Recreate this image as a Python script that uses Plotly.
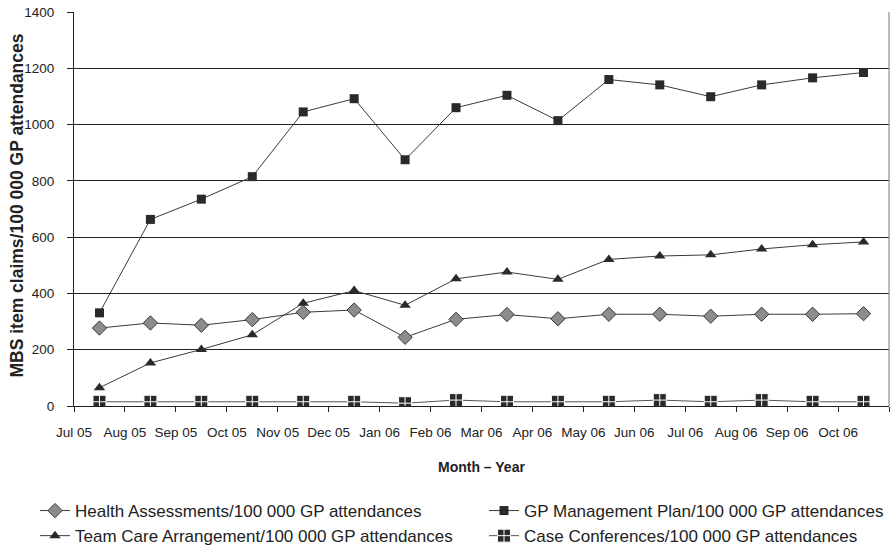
import plotly.graph_objects as go

months = ["Jul 05", "Aug 05", "Sep 05", "Oct 05", "Nov 05", "Dec 05", "Jan 06", "Feb 06",
          "Mar 06", "Apr 06", "May 06", "Jun 06", "Jul 06", "Aug 06", "Sep 06", "Oct 06"]

health_assessments = [277, 295, 287, 307, 333, 341, 244, 308, 325, 310, 326, 326, 319, 326, 326, 328]
gp_management_plan = [331, 663, 735, 815, 1045, 1092, 875, 1060, 1104, 1014, 1160, 1141, 1099, 1141, 1166, 1185]
team_care = [65, 153, 201, 253, 365, 410, 358, 452, 476, 450, 521, 533, 537, 558, 573, 583]
case_conferences = [15, 15, 15, 15, 15, 15, 10, 21, 15, 15, 15, 21, 15, 21, 15, 15]

y_ticks = [0, 200, 400, 600, 800, 1000, 1200, 1400]

x_pos = list(range(len(months)))
tick_pos = [i - 0.5 for i in range(len(months) + 1)]
tick_text = months + [""]

line_style = dict(color="#3a3a3a", width=1)
fig = go.Figure()
fig.add_trace(go.Scatter(x=x_pos, y=health_assessments, mode="lines+markers",
                         name="Health Assessments/100 000 GP attendances",
                         line=line_style, legend="legend",
                         marker=dict(symbol="diamond", size=11, color="#8c8c8c",
                                     line=dict(color="#3a3a3a", width=1))))
fig.add_trace(go.Scatter(x=x_pos, y=gp_management_plan, mode="lines+markers",
                         name="GP Management Plan/100 000 GP attendances",
                         line=line_style, legend="legend2",
                         marker=dict(symbol="square", size=9, color="#2a2a2a",
                                     line=dict(color="#2a2a2a", width=0))))
fig.add_trace(go.Scatter(x=x_pos, y=team_care, mode="lines+markers",
                         name="Team Care Arrangement/100 000 GP attendances",
                         line=line_style, legend="legend",
                         marker=dict(symbol="triangle-up", size=10, color="#2a2a2a",
                                     line=dict(color="#2a2a2a", width=0))))
fig.add_trace(go.Scatter(x=x_pos, y=case_conferences, mode="lines+markers",
                         name="Case Conferences/100 000 GP attendances",
                         line=dict(color="#555555", width=1), legend="legend2",
                         marker=dict(symbol="square-cross", size=13, color="#2a2a2a",
                                     line=dict(color="white", width=1))))

font_main = "Liberation Sans, Arial, Helvetica, sans-serif"
legend_common = dict(orientation="v", xanchor="left", yanchor="top",
                     xref="container", yref="container", itemwidth=30,
                     font=dict(family=font_main, size=17, color="#222"),
                     tracegroupgap=0, bgcolor="rgba(0,0,0,0)", borderwidth=0)

fig.update_layout(
    width=892, height=545,
    margin=dict(l=74, r=3, t=12, b=139, autoexpand=False),
    paper_bgcolor="white", plot_bgcolor="white",
    font=dict(family=font_main, size=13.5, color="#222"),
    showlegend=True,
    legend=dict(x=35 / 892, y=1 - 493 / 545, **legend_common),
    legend2=dict(x=484 / 892, y=1 - 493 / 545, **legend_common),
    xaxis=dict(range=[-0.5, 15.5], tickmode="array", tickvals=tick_pos, ticktext=tick_text,
               showgrid=False, zeroline=False, showline=True, linecolor="#222", linewidth=1,
               mirror=False, ticks="outside", ticklen=5, tickcolor="#222",
               ticklabelstandoff=9,
               tickfont=dict(size=13.5, color="#222")),
    yaxis=dict(range=[0, 1400], tickmode="array", tickvals=y_ticks,
               showgrid=True, gridcolor="#222", gridwidth=1, zeroline=False,
               showline=True, linecolor="#222", linewidth=1,
               ticks="outside", ticklen=6, tickcolor="#222",
               ticklabelstandoff=10,
               tickfont=dict(size=13.5, color="#222")),
    annotations=[
        dict(text="<b>Month – Year</b>", xref="paper", yref="paper", x=0.5, y=-(467 - 406) / 394,
             xanchor="center", yanchor="middle", showarrow=False, font=dict(size=14)),
        dict(text="<b>MBS item claims/100 000 GP attendances</b>", xref="paper", yref="paper",
             x=-(74 - 16) / 815, y=(406 - 205.5) / 394, textangle=-90, xanchor="center", yanchor="middle",
             showarrow=False, font=dict(size=17.5)),
    ],
    shapes=[dict(type="line", xref="paper", yref="paper", x0=1, x1=1, y0=0, y1=1,
                 line=dict(color="#777", width=1))],
)

fig.write_html("out.html", config={"displayModeBar": False},
               post_script="document.body.style.margin='0px';")
